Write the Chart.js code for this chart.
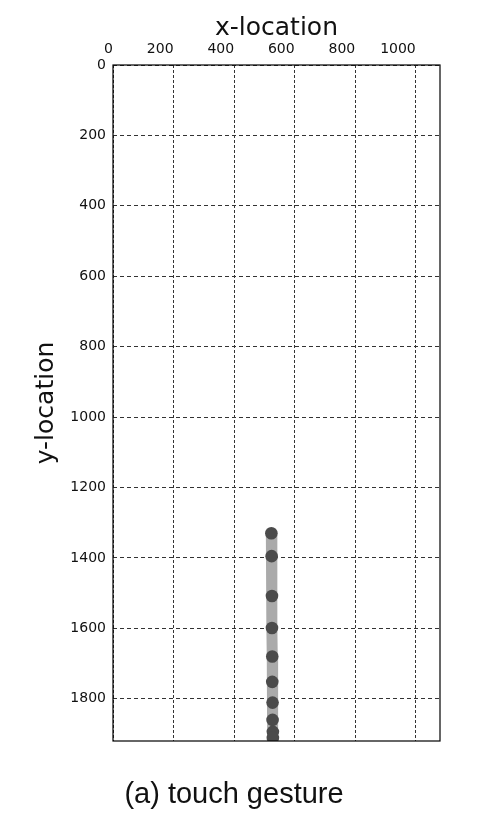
<!DOCTYPE html>
<html>
<head>
<meta charset="utf-8">
<script src="https://cdn.jsdelivr.net/npm/chart.js@4.4.1/dist/chart.umd.min.js"></script>
<style>
  html, body { margin: 0; padding: 0; background: #fff; }
  #wrap { position: relative; width: 482px; height: 826px; }
  #caption { position: absolute; left: 0; width: 468px; top: 773px; height: 40px; line-height: 40px;
    text-align: center; font-family: "Liberation Sans", Arial, sans-serif; font-size: 29px; color: #111; }
</style>
</head>
<body>
<div id="wrap">
  <canvas id="c" width="482" height="826"></canvas>
  <div id="caption">(a) touch gesture</div>
</div>
<script>
// Data
const xLocation = [523, 524, 525, 525, 526, 526, 527, 527, 528, 528];
const yLocation = [1330, 1395, 1508, 1599, 1680, 1752, 1811, 1860, 1894, 1911];
const xTickValues = [0, 200, 400, 600, 800, 1000];
const yTickValues = [0, 200, 400, 600, 800, 1000, 1200, 1400, 1600, 1800];
const xAxisTitle = 'x-location';
const yAxisTitle = 'y-location';
const xRange = [0, 1080];
const yRange = [0, 1920];

const points = xLocation.map((x, i) => ({ x: x, y: yLocation[i] }));

const framePlugin = {
  id: 'frame',
  afterDraw(chart) {
    const { ctx, chartArea: a } = chart;
    ctx.save();
    ctx.strokeStyle = '#000';
    ctx.lineWidth = 1.2;
    ctx.strokeRect(a.left, a.top, a.right - a.left, a.bottom - a.top);
    ctx.restore();
  }
};

new Chart(document.getElementById('c'), {
  type: 'scatter',
  data: {
    datasets: [{
      data: points,
      showLine: true,
      borderColor: '#aaaaaa',
      borderWidth: 11,
      pointRadius: 6.3,
      pointBackgroundColor: '#4b4b4b',
      pointBorderColor: '#4b4b4b',
      pointBorderWidth: 0
    }]
  },
  options: {
    responsive: false,
    animation: false,
    devicePixelRatio: 1,
    layout: { padding: { left: 0, top: 0, right: 42, bottom: 85 } },
    plugins: { legend: { display: false }, tooltip: { enabled: false } },
    scales: {
      x: {
        type: 'linear',
        position: 'top',
        min: xRange[0],
        max: xRange[1],
        afterBuildTicks(scale) { scale.ticks = xTickValues.map(v => ({ value: v })); },
        grid: { color: '#333', lineWidth: 1, drawTicks: false },
        border: { display: false, dash: [3, 2] },
        ticks: {
          align: 'end',
          padding: 7,
          color: '#111',
          font: { family: 'DejaVu Sans', size: 14 },
          callback: v => String(v)
        },
        title: {
          display: true,
          text: xAxisTitle,
          color: '#111',
          padding: { top: 13, bottom: 0 },
          font: { family: 'DejaVu Sans', size: 25 }
        },
        afterFit(scale) { scale.height = 65; }
      },
      y: {
        type: 'linear',
        reverse: true,
        min: yRange[0],
        max: yRange[1],
        afterBuildTicks(scale) { scale.ticks = yTickValues.map(v => ({ value: v })); },
        grid: { color: '#333', lineWidth: 1, drawTicks: false },
        border: { display: false, dash: [4, 3] },
        ticks: {
          padding: 7,
          color: '#111',
          font: { family: 'DejaVu Sans', size: 14 },
          callback: v => String(v)
        },
        title: {
          display: true,
          text: yAxisTitle,
          color: '#111',
          padding: { top: 31, bottom: 0 },
          font: { family: 'DejaVu Sans', size: 25 }
        },
        afterFit(scale) { scale.width = 113; }
      }
    }
  },
  plugins: [framePlugin]
});
</script>
</body>
</html>
